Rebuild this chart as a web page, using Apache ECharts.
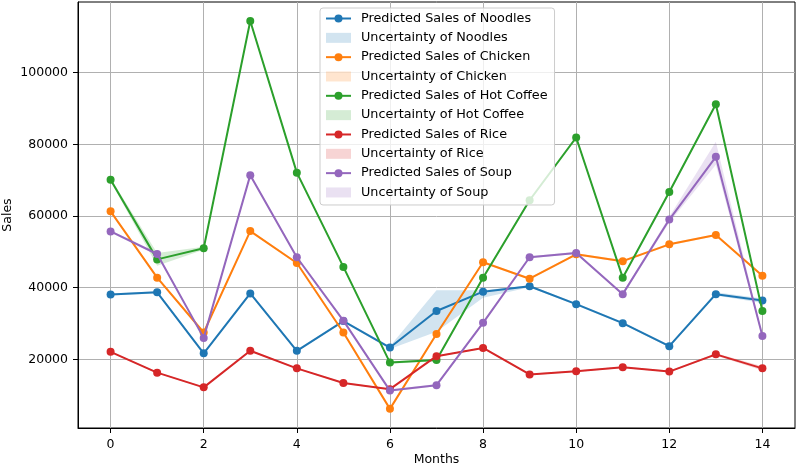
<!DOCTYPE html>
<html>
<head>
<meta charset="utf-8">
<script src="https://cdn.jsdelivr.net/npm/echarts@6/dist/echarts.min.js"></script>
<style>
html,body{margin:0;padding:0;background:#fff;}
#chart{width:798px;height:467px;}
</style>
</head>
<body>
<div id="chart"></div>
<script>
const months = [0,1,2,3,4,5,6,7,8,9,10,11,12,13,14];
const xTicks = [0,2,4,6,8,10,12,14];
const yTicks = [20000,40000,60000,80000,100000];

const noodles = [38100,38700,21700,38400,22400,30700,23300,33500,38900,40400,35400,30100,23700,38200,36400];
const noodlesLow  = [37800,38400,21400,38100,22100,30400,22900,27700,37200,40100,35100,29800,23400,37800,35700];
const noodlesHigh = [38400,39000,22000,38700,22700,31000,23700,39300,39300,40700,35700,30400,24000,38700,37000];

const chicken = [61300,42800,27500,55800,46900,27500,6200,27100,47100,42500,49300,47400,52100,54700,43300];
const chickenLow  = [61000,42500,27200,55500,46600,27200,6000,26800,46800,42200,49000,47100,51800,54400,43000];
const chickenHigh = [61600,43100,27800,56100,47200,27800,6400,27400,47400,42800,49600,47700,52400,55000,43600];

const coffee = [70100,47900,51000,114400,72100,45800,19100,19800,42800,64400,81900,42800,66700,91200,33500];
const coffeeLow  = [69700,46100,50600,114000,71700,45400,18800,19500,42400,64000,81500,42400,66300,90800,33100];
const coffeeHigh = [70500,49700,51400,114800,72500,46200,19400,20100,43200,64800,82300,43200,67100,91600,33900];

const rice = [22100,16300,12200,22400,17500,13400,11700,20900,23200,15800,16700,17800,16600,21400,17500];
const riceLow  = [21900,16100,12000,22200,17300,13200,11500,20700,23000,15600,16500,17600,16400,21100,16900];
const riceHigh = [22300,16500,12400,22600,17700,13600,11900,21100,23400,16000,16900,18000,16800,21700,18100];

const soup = [55700,49400,26000,71400,48500,30800,11300,12800,30200,48500,49700,38200,59000,76500,26500];
const soupLow  = [55400,49000,25700,71000,48200,30500,11000,12500,29900,48200,49400,37900,58200,74300,26100];
const soupHigh = [56000,49800,26300,71800,48800,31100,11600,13100,30500,48800,50000,38500,59800,80700,26900];

const products = [
  {name:'Noodles', color:'#1f77b4', band:'rgba(31,119,180,0.2)', v:noodles, lo:noodlesLow, hi:noodlesHigh},
  {name:'Chicken', color:'#ff7f0e', band:'rgba(255,127,14,0.2)', v:chicken, lo:chickenLow, hi:chickenHigh},
  {name:'Hot Coffee', color:'#2ca02c', band:'rgba(44,160,44,0.2)', v:coffee, lo:coffeeLow, hi:coffeeHigh},
  {name:'Rice', color:'#d62728', band:'rgba(214,39,40,0.2)', v:rice, lo:riceLow, hi:riceHigh},
  {name:'Soup', color:'#9467bd', band:'rgba(148,103,189,0.2)', v:soup, lo:soupLow, hi:soupHigh}
];

const FONT = 'DejaVu Sans';
const series = [];
const legendData = [];
let z = 2;
products.forEach(p => {
  const lineName = 'Predicted Sales of ' + p.name;
  const bandName = 'Uncertainty of ' + p.name;
  series.push({
    name: lineName, type: 'line', z: z++,
    data: months.map((m,i) => [m, p.v[i]]),
    symbol: 'circle', symbolSize: 8, showSymbol: true,
    itemStyle: {color: p.color},
    lineStyle: {color: p.color, width: 2},
    emphasis: {disabled: true}, animation: false
  });
  const bandData = months.map((m,i) => [m, p.lo[i], p.hi[i]]);
  series.push({
    name: bandName, type: 'custom', z: z++,
    itemStyle: {color: p.band},
    data: bandData,
    encode: {x: 0, y: [1,2]},
    renderItem: function(params, api) {
      if (params.dataIndex !== 0) return null;
      const upper = bandData.map(d => api.coord([d[0], d[2]]));
      const lower = bandData.map(d => api.coord([d[0], d[1]])).reverse();
      return {type: 'polygon', shape: {points: upper.concat(lower)}, style: {fill: p.band, stroke: null}};
    },
    animation: false
  });
  legendData.push({name: lineName});
  legendData.push({name: bandName, icon: 'rect', itemStyle: {color: p.band}});
});

const chart = echarts.init(document.getElementById('chart'), null, {renderer: 'canvas'});
chart.setOption({
  animation: false,
  backgroundColor: '#fff',
  textStyle: {fontFamily: FONT},
  grid: {left: 78, right: 3, top: 2, bottom: 39, show: true, borderColor: '#000', borderWidth: 1,
    backgroundColor: 'transparent', containLabel: false, outerBoundsMode: 'none'},
  xAxis: {
    type: 'value', min: -0.7, max: 14.7,
    name: 'Months', nameLocation: 'middle', nameGap: 25, nameMoveOverlap: false,
    nameTextStyle: {fontFamily: FONT, fontSize: 12.5, color: '#000'},
    axisLine: {show: true, onZero: false, lineStyle: {color: '#000', width: 1}},
    axisTick: {show: true, length: 5, lineStyle: {color: '#000'}, customValues: xTicks},
    axisLabel: {fontFamily: FONT, fontSize: 12.5, color: '#000', margin: 10, customValues: xTicks},
    splitLine: {show: true, lineStyle: {color: '#b0b0b0', width: 1}}
  },
  yAxis: {
    type: 'value', min: 860, max: 119700,
    name: 'Sales', nameLocation: 'middle', nameGap: 64, nameMoveOverlap: false,
    nameTextStyle: {fontFamily: FONT, fontSize: 12.5, color: '#000'},
    axisLine: {show: true, onZero: false, lineStyle: {color: '#000', width: 1}},
    axisTick: {show: true, length: 5, lineStyle: {color: '#000'}, customValues: yTicks},
    axisLabel: {fontFamily: FONT, fontSize: 12.5, color: '#000', margin: 10, customValues: yTicks,
      formatter: v => String(Math.round(v))},
    splitLine: {show: true, lineStyle: {color: '#b0b0b0', width: 1}}
  },
  legend: {
    orient: 'vertical', left: 320, top: 8, z: 100,
    data: legendData,
    itemWidth: 25, itemHeight: 10, itemGap: 6.33,
    padding: [4, 7, 6, 5],
    backgroundColor: 'rgba(255,255,255,0.8)',
    borderColor: '#cccccc', borderWidth: 1, borderRadius: 3,
    selectedMode: false,
    textStyle: {fontFamily: FONT, fontSize: 12.8, color: '#000', lineHeight: 13, padding: [0,0,0,5]}
  },
  series: series
});
</script>
</body>
</html>
